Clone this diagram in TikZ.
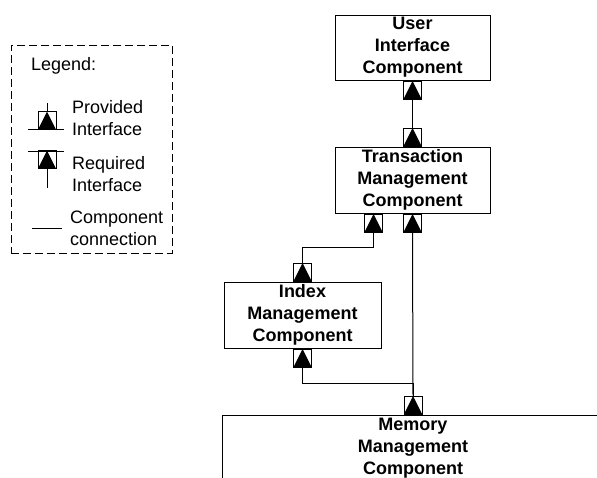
\documentclass[tikz,border=0pt]{standalone}
\usepackage{fontspec}
\setmainfont{Liberation Sans}
\usetikzlibrary{positioning}

\begin{document}
\begin{tikzpicture}[
    x=1pt, y=1pt,
    comp/.style={draw, line width=1pt, align=center, inner sep=0pt,
                 font=\fontsize{18}{22}\selectfont\bfseries},
    iface/.style={draw, line width=1pt, minimum size=18pt, inner sep=0pt,
                  path picture={\fill (path picture bounding box.south west) -- (path picture bounding box.north)
                                -- (path picture bounding box.south east) -- cycle;}},
    legtext/.style={align=left, inner sep=0pt, anchor=west, font=\fontsize{18}{22}\selectfont},
    legbox/.style={draw, line width=1pt, dash pattern=on 8pt off 4pt},
    conn/.style={line width=1pt},
    node distance=0pt
]
    \useasboundingbox (0,0) rectangle (597,-477);
    \clip (0,0) rectangle (597,-477);

    \node[legbox, minimum width=161pt, minimum height=208pt] (leg) at (91.5,-149) {};
    \node[legtext] (legt) at (31,-66) {Legend:};

    \node[iface] (lp) at (47,-120.5) {};
    \coordinate (lpa) at (28,-129);
    \coordinate (lpb) at (64,-129);
    \coordinate (lpc) at (47,-103);
    \draw[conn] (lpa) -- (lpb);
    \draw[conn] (lp.north) -- (lpc);
    \node[legtext] (lpt) at (72,-118) {Provided\\Interface};

    \node[iface] (lr) at (47,-159.5) {};
    \coordinate (lra) at (28,-151);
    \coordinate (lrb) at (64,-151);
    \coordinate (lrc) at (47,-188);
    \draw[conn] (lra) -- (lrb);
    \draw[conn] (lr.south) -- (lrc);
    \node[legtext] (lrt) at (72,-174) {Required\\Interface};

    \coordinate (lca) at (32,-228);
    \coordinate (lcb) at (62,-228);
    \draw[conn] (lca) -- (lcb);
    \node[legtext] (lct) at (70,-228) {Component\\connection};

    \node[comp, minimum width=155pt, minimum height=65pt] (ui) at (412.5,-47.5) {User\\Interface\\Component};
    \node[comp, minimum width=155pt, minimum height=66pt] (tm) at (412.5,-180) {Transaction\\Management\\Component};
    \node[comp, minimum width=157pt, minimum height=66pt] (ix) at (302.5,-315) {Index\\Management\\Component};
    \node[comp, minimum width=382pt, minimum height=66pt] (mm) at (413,-448) {Memory\\Management\\Component};

    \node[iface, below=of ui] (uib) {};
    \node[iface, above=of tm] (tmt) {};
    \node[iface, below=of tm, xshift=-39pt] (tml) {};
    \node[iface, below=of tm] (tmr) {};
    \node[iface, above=of ix] (ixt) {};
    \node[iface, below=of ix] (ixb) {};
    \node[iface, above=of mm] (mmt) {};

    \draw[conn] (uib.south) -- (tmt.north);
    \draw[conn] (tml.south) -- ++(0,-15) -| (ixt.north);
    \draw[conn] (tmr.south) -- (mmt.north);
    \draw[conn] (ixb.south) -- ++(0,-16) -| (mmt.north);
\end{tikzpicture}
\end{document}
